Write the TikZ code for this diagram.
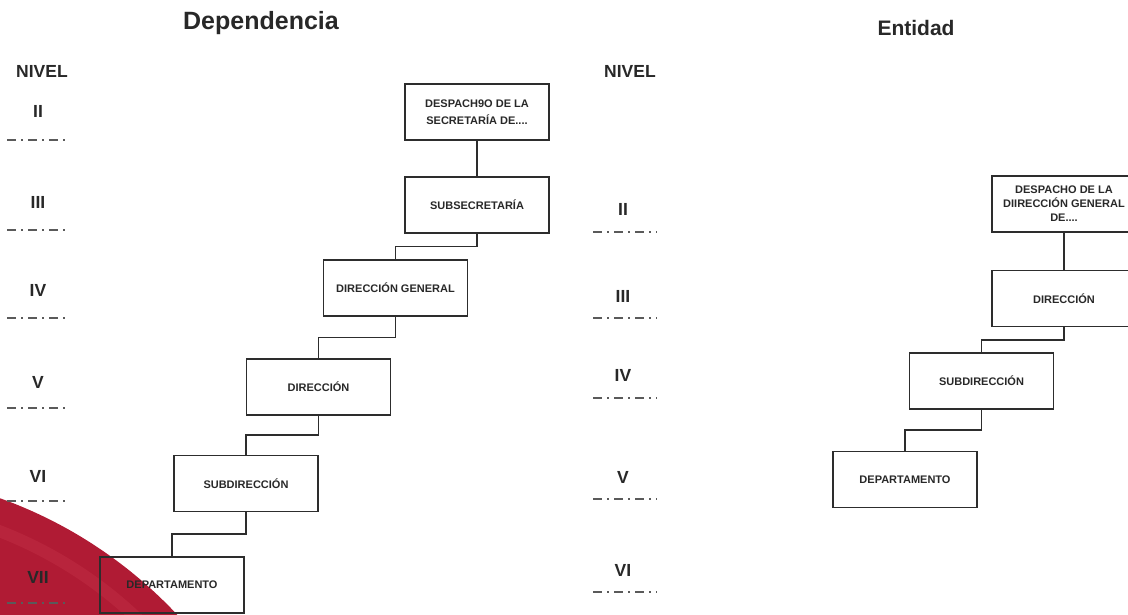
\documentclass[tikz,border=0pt]{standalone}
\usepackage{fontspec}
\setmainfont{Liberation Sans}
\usetikzlibrary{calc}
\definecolor{deepred}{RGB}{176,27,52}
\definecolor{lightred}{RGB}{205,60,80}
\definecolor{boxgray}{RGB}{45,45,45}
\definecolor{dashgray}{RGB}{90,90,90}
\definecolor{txtgray}{RGB}{40,40,40}
\newcommand{\boxfont}{\fontsize{11}{14}\selectfont\bfseries}
\newcommand{\lvlfont}{\fontsize{17.5}{20}\selectfont\bfseries}
\tikzset{
  orgbox/.style={draw=boxgray, line width=1.7pt, minimum width=144pt, minimum height=56pt,
    inner sep=1pt, align=center, font=\boxfont, text=txtgray},
  elbow/.style={to path={(\tikztostart) |- ($(\tikztostart)!0.5!(\tikztotarget)$) -| (\tikztotarget)}},
  link/.style={draw=boxgray, line width=1.7pt},
  lvl/.style={font=\lvlfont, text=txtgray, inner sep=0pt},
  title/.style={font=\fontsize{25}{28}\selectfont\bfseries, text=txtgray, inner sep=0pt},
  dashline/.style={draw=dashgray, line width=1.6pt, dash pattern=on 9pt off 5pt on 2pt off 5pt}
}
\begin{document}
\begin{tikzpicture}[x=1pt,y=-1pt]
\useasboundingbox (0,0) rectangle (1128,614);
\clip (0,0) rectangle (1128,614);
% red background shape
\fill[deepred] (-152,923) circle[radius=451pt];
\draw[lightred, opacity=0.3, line width=12pt] (-152,923) circle[radius=420pt];

% titles
\node[title] (tdep) at (261,23) {Dependencia};
\node[title, font=\fontsize{21}{24}\selectfont\bfseries] (tent) at (916,28) {Entidad};

% left levels
\node[lvl] (lnivel) at (42,71) {NIVEL};
\node[lvl] (l2) at (38,111) {II};
\node[lvl] (l3) at (38,202) {III};
\node[lvl] (l4) at (38,290) {IV};
\node[lvl] (l5) at (38,382) {V};
\node[lvl] (l6) at (38,476) {VI};
\node[lvl] (l7) at (38,577) {VII};
\foreach \y/\n in {140/a,230/b,318/c,408/d,501/e,603/f}{
  \coordinate (ld\n s) at (7,\y);
  \coordinate (ld\n e) at (69,\y);
  \draw[dashline] (ld\n s) -- (ld\n e);
}

% right levels
\node[lvl] (rnivel) at (630,71) {NIVEL};
\node[lvl] (r2) at (623,209) {II};
\node[lvl] (r3) at (623,296) {III};
\node[lvl] (r4) at (623,375) {IV};
\node[lvl] (r5) at (623,477) {V};
\node[lvl] (r6) at (623,570) {VI};
\foreach \y/\n in {232/a,318/b,398/c,499/d,592/e}{
  \coordinate (rd\n s) at (593,\y);
  \coordinate (rd\n e) at (657,\y);
  \draw[dashline] (rd\n s) -- (rd\n e);
}

% left boxes
\node[orgbox] (ldes) at (477,112) {DESPACH9O DE LA\\[3pt]SECRETARÍA DE....};
\node[orgbox] (lsub) at (477,205) {SUBSECRETARÍA};
\node[orgbox] (ldg)  at (395.5,288) {DIRECCIÓN GENERAL};
\node[orgbox] (ldir) at (318.5,387) {DIRECCIÓN};
\node[orgbox] (lsd)  at (246,483.5) {SUBDIRECCIÓN};
\node[orgbox] (ldep) at (172,585) {DEPARTAMENTO};

\draw[link] (ldes.south) to[elbow] (lsub.north);
\draw[link] (lsub.south) to[elbow] (ldg.north);
\draw[link] (ldg.south) to[elbow] (ldir.north);
\draw[link] (ldir.south) to[elbow] (lsd.north);
\draw[link] (lsd.south) to[elbow] (ldep.north);

% right boxes
\node[orgbox] (rdes) at (1064,204) {DESPACHO DE LA\\DIIRECCIÓN GENERAL\\DE....};
\node[orgbox] (rdir) at (1064,298.5) {DIRECCIÓN};
\node[orgbox] (rsd)  at (981.5,381) {SUBDIRECCIÓN};
\node[orgbox] (rdep) at (905,479.5) {DEPARTAMENTO};

\draw[link] (rdes.south) to[elbow] (rdir.north);
\draw[link] (rdir.south) to[elbow] (rsd.north);
\draw[link] (rsd.south) to[elbow] (rdep.north);
\end{tikzpicture}
\end{document}
